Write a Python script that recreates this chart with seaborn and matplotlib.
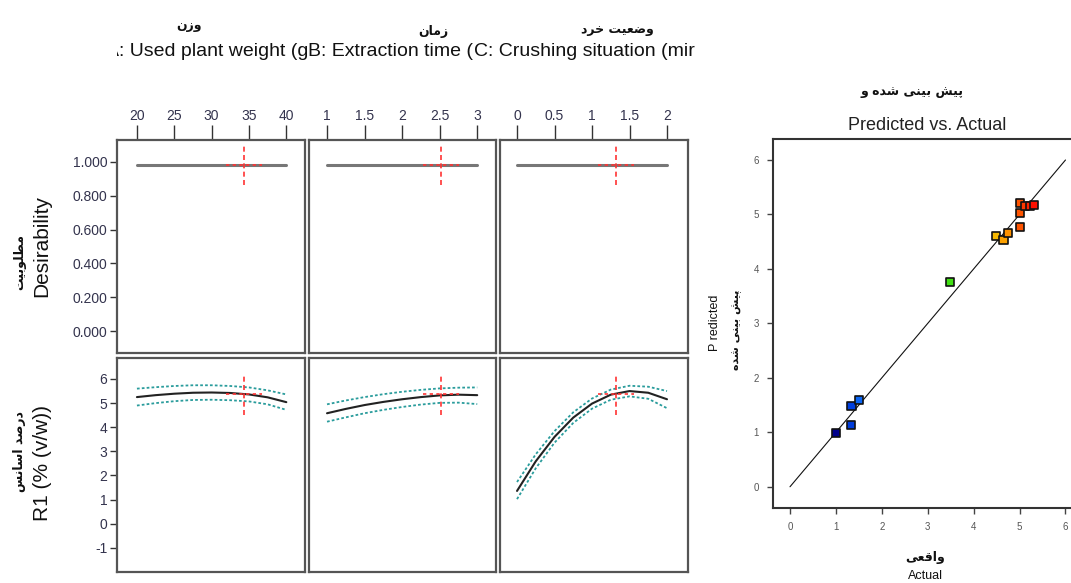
import numpy as np
import pandas as pd
import matplotlib
matplotlib.use("Agg")
import matplotlib.pyplot as plt
import seaborn as sns
from matplotlib.transforms import Bbox, TransformedBbox
from matplotlib.colors import LinearSegmentedColormap

# ---------------- data ----------------
# header texts as they appear (truncated) in the reference
factor_headers = ["A: Used plant weight (g", "B: Extraction time (", "C: Crushing situation (mir"]
factor_names_fa = ["وزن", "زمان", "وضعیت خرد"]
factor_ticks = [[20, 25, 30, 35, 40], [1, 1.5, 2, 2.5, 3], [0, 0.5, 1, 1.5, 2]]
factor_ticklabels = [["20", "25", "30", "35", "40"], ["1", "1.5", "2", "2.5", "3"], ["0", "0.5", "1", "1.5", "2"]]
factor_current = [34.3, 2.52, 1.32]

weight_x = [20, 22.5, 25, 27.5, 30, 32.5, 35, 37.5, 40]
weight_r1 = [5.25, 5.33, 5.39, 5.43, 5.44, 5.42, 5.36, 5.24, 5.04]
weight_hi = [5.60, 5.66, 5.71, 5.74, 5.74, 5.71, 5.65, 5.53, 5.36]
weight_lo = [4.90, 5.00, 5.08, 5.13, 5.14, 5.12, 5.07, 4.95, 4.72]

time_x = [1, 1.25, 1.5, 1.75, 2, 2.25, 2.5, 2.75, 3]
time_r1 = [4.58, 4.76, 4.92, 5.05, 5.16, 5.25, 5.32, 5.35, 5.33]
time_hi = [4.95, 5.11, 5.25, 5.37, 5.47, 5.55, 5.61, 5.64, 5.65]
time_lo = [4.23, 4.41, 4.58, 4.72, 4.84, 4.94, 5.01, 5.02, 4.96]

crush_x = [0, 0.25, 0.5, 0.75, 1, 1.25, 1.5, 1.75, 2]
crush_r1 = [1.36, 2.59, 3.60, 4.40, 4.98, 5.35, 5.50, 5.43, 5.16]
crush_hi = [1.73, 2.88, 3.84, 4.62, 5.19, 5.56, 5.72, 5.68, 5.50]
crush_lo = [1.02, 2.30, 3.36, 4.18, 4.77, 5.14, 5.28, 5.18, 4.79]

desirability_value = 0.985
r1_current = 5.37

desir_ticks = [0.0, 0.2, 0.4, 0.6, 0.8, 1.0]
desir_ticklabels = ["0.000", "0.200", "0.400", "0.600", "0.800", "1.000"]
r1_ticks = [-1, 0, 1, 2, 3, 4, 5, 6]

actual = [1.00, 1.33, 1.34, 1.50, 3.49, 4.49, 4.65, 4.75, 5.00, 5.00, 5.00, 5.12, 5.22, 5.32]
predicted = [0.98, 1.13, 1.48, 1.59, 3.76, 4.61, 4.53, 4.66, 4.77, 5.03, 5.21, 5.16, 5.16, 5.17]
diag_line = [0, 6]
pva_ticks = [0, 1, 2, 3, 4, 5, 6]

label_desir = "Desirability"
label_desir_fa = "مطلوبیت"
label_r1 = "R1 (% (v/w))"
label_r1_fa = "درصد اسانس"
title_pva = "Predicted vs. Actual"
title_pva_fa = "پیش بینی شده و"
label_pred = "P redicted"
label_pred_fa = "پیش بینی شده"
label_act = "Actual"
label_act_fa = "واقعی"

# ---------------- Arabic-script shaping (matplotlib has no shaper) ----------------
# (isolated, final, initial, medial); right-joining letters have only two forms
FORMS = {
    "ا": ("\uFE8D", "\uFE8E"), "د": ("\uFEA9", "\uFEAA"), "ر": ("\uFEAD", "\uFEAE"),
    "ز": ("\uFEAF", "\uFEB0"), "و": ("\uFEED", "\uFEEE"),
    "ب": ("\uFE8F", "\uFE90", "\uFE91", "\uFE92"), "پ": ("\uFB56", "\uFB57", "\uFB58", "\uFB59"),
    "ت": ("\uFE95", "\uFE96", "\uFE97", "\uFE98"), "خ": ("\uFEA5", "\uFEA6", "\uFEA7", "\uFEA8"),
    "س": ("\uFEB1", "\uFEB2", "\uFEB3", "\uFEB4"), "ش": ("\uFEB5", "\uFEB6", "\uFEB7", "\uFEB8"),
    "ص": ("\uFEB9", "\uFEBA", "\uFEBB", "\uFEBC"), "ض": ("\uFEBD", "\uFEBE", "\uFEBF", "\uFEC0"),
    "ط": ("\uFEC1", "\uFEC2", "\uFEC3", "\uFEC4"), "ع": ("\uFEC9", "\uFECA", "\uFECB", "\uFECC"),
    "ق": ("\uFED5", "\uFED6", "\uFED7", "\uFED8"), "ل": ("\uFEDD", "\uFEDE", "\uFEDF", "\uFEE0"),
    "م": ("\uFEE1", "\uFEE2", "\uFEE3", "\uFEE4"), "ن": ("\uFEE5", "\uFEE6", "\uFEE7", "\uFEE8"),
    "ه": ("\uFEE9", "\uFEEA", "\uFEEB", "\uFEEC"), "ی": ("\uFBFC", "\uFBFD", "\uFBFE", "\uFBFF"),
}


def shape_rtl(s):
    out = []
    for i, c in enumerate(s):
        if c not in FORMS:
            out.append(c)
            continue
        f = FORMS[c]
        prev_joins = i > 0 and s[i - 1] in FORMS and len(FORMS[s[i - 1]]) == 4
        next_joins = len(f) == 4 and i + 1 < len(s) and s[i + 1] in FORMS
        if prev_joins and next_joins:
            out.append(f[3])
        elif prev_joins:
            out.append(f[1])
        elif next_joins:
            out.append(f[2])
        else:
            out.append(f[0])
    return "".join(reversed(out))


# ---------------- style ----------------
sns.set_style("white")
plt.rcParams['font.family'] = ['Liberation Sans', 'DejaVu Sans']
FA = ["DejaVu Sans"]

W, H = 1071, 583
fig = plt.figure(figsize=(W / 100, H / 100), dpi=100)


def fx(px):
    return px / W


def fy(py):
    return 1 - py / H


col_left = [117, 309, 500]
col_w = [188, 187, 188]
top_row = (140, 353)
bot_row = (358, 572)
xlims = [(17.33, 42.5), (0.76, 3.25), (-0.227, 2.28)]

curves = [(weight_x, weight_r1, weight_hi, weight_lo),
          (time_x, time_r1, time_hi, time_lo),
          (crush_x, crush_r1, crush_hi, crush_lo)]

spine_col = "#555555"
tick_col = "#33334d"
red = "#ff3333"
teal = "#2a9c9c"

for i in range(3):
    # ---- desirability row
    axd = fig.add_axes([fx(col_left[i]), fy(top_row[1]), fx(col_w[i]), (top_row[1] - top_row[0]) / H])
    xs = [factor_ticks[i][0], factor_ticks[i][-1]]
    dfd = pd.DataFrame({"x": xs, "y": [desirability_value, desirability_value]})
    sns.lineplot(data=dfd, x="x", y="y", ax=axd, color="#777777", lw=2.2)
    axd.set_xlim(*xlims[i])
    axd.set_ylim(-0.13, 1.13)
    cur = factor_current[i]
    yfrac = (desirability_value + 0.13) / 1.26
    axd.axvline(cur, ymin=yfrac - 0.095, ymax=yfrac + 0.095, color=red, lw=1.2, ls=(0, (3, 2)), zorder=5)
    xfrac = (cur - xlims[i][0]) / (xlims[i][1] - xlims[i][0])
    axd.axhline(desirability_value, xmin=xfrac - 0.096, xmax=xfrac + 0.096, color=red, lw=1.2,
                ls=(0, (2, 2)), zorder=5)
    axd.xaxis.tick_top()
    axd.set_xticks(factor_ticks[i])
    axd.set_xticklabels(factor_ticklabels[i])
    axd.tick_params(axis="x", direction="out", length=11, width=1, color="#333333",
                    labelsize=10, labelcolor=tick_col, pad=1)
    axd.set_xlabel("")
    axd.set_ylabel("")
    if i == 0:
        axd.set_yticks(desir_ticks)
        axd.set_yticklabels(desir_ticklabels)
        axd.tick_params(axis="y", direction="out", length=5, width=1, color="#333333",
                        labelsize=10, labelcolor=tick_col, pad=2, left=True)
    else:
        axd.set_yticks([])
    for s in axd.spines.values():
        s.set_color(spine_col)
        s.set_linewidth(1.6)

    # ---- R1 row
    axr = fig.add_axes([fx(col_left[i]), fy(bot_row[1]), fx(col_w[i]), (bot_row[1] - bot_row[0]) / H])
    x, m, hi, lo = curves[i]
    dfr = pd.DataFrame({"x": x, "mean": m, "hi": hi, "lo": lo})
    sns.lineplot(data=dfr, x="x", y="hi", ax=axr, color=teal, lw=1.3, ls=(0, (1.5, 1.2)))
    sns.lineplot(data=dfr, x="x", y="lo", ax=axr, color=teal, lw=1.3, ls=(0, (1.5, 1.2)))
    sns.lineplot(data=dfr, x="x", y="mean", ax=axr, color="#222222", lw=1.5)
    axr.set_xlim(*xlims[i])
    axr.set_ylim(-2.0, 6.87)
    yfrac = (r1_current + 2.0) / 8.87
    axr.axvline(cur, ymin=yfrac - 0.095, ymax=yfrac + 0.095, color=red, lw=1.2, ls=(0, (3, 2)), zorder=5)
    axr.axhline(r1_current, xmin=xfrac - 0.096, xmax=xfrac + 0.096, color=red, lw=1.2,
                ls=(0, (2, 2)), zorder=5)
    axr.set_xticks([])
    axr.set_xlabel("")
    axr.set_ylabel("")
    if i == 0:
        axr.set_yticks(r1_ticks)
        axr.set_yticklabels([str(t) for t in r1_ticks])
        axr.tick_params(axis="y", direction="out", length=5, width=1, color="#333333",
                        labelsize=10, labelcolor=tick_col, pad=2, left=True)
    else:
        axr.set_yticks([])
    for s in axr.spines.values():
        s.set_color(spine_col)
        s.set_linewidth(1.6)

# header texts (first one is cut on its left by the plot margin, as in the reference)
text_left = [106, 307.5, 474]
for i in range(3):
    t = fig.text(fx(text_left[i]), fy(51), factor_headers[i], ha="left", va="center",
                 fontsize=14, color="#111111")
    if i == 0:
        bb = TransformedBbox(Bbox([[fx(117), 0], [fx(307), 1]]), fig.transFigure)
        t.set_clip_box(bb)
        t.set_clip_on(True)

fa_pos = [(189, 25), (433, 32), (617, 29)]
for i in range(3):
    fig.text(fx(fa_pos[i][0]), fy(fa_pos[i][1]), shape_rtl(factor_names_fa[i]), ha="center", va="center",
             fontsize=9, fontweight="bold", color="#111111", family=FA)

# left y labels
fig.text(fx(42), fy(246), label_desir, rotation=90, ha="center", va="center", fontsize=15, color="#111111")
fig.text(fx(20), fy(262), shape_rtl(label_desir_fa), rotation=90, ha="center", va="center", fontsize=9,
         fontweight="bold", color="#111111", family=FA)
fig.text(fx(42), fy(463), label_r1, rotation=90, ha="center", va="center", fontsize=15, color="#111111")
fig.text(fx(20), fy(452), shape_rtl(label_r1_fa), rotation=90, ha="center", va="center", fontsize=9,
         fontweight="bold", color="#111111", family=FA)

# ---------------- predicted vs actual ----------------
axp = fig.add_axes([fx(773), fy(508), 1 - fx(773), (508 - 139.3) / H])
cmap = LinearSegmentedColormap.from_list("de", [(0.0, "#00008b"), (0.08, "#0040e0"), (0.13, "#1078ff"),
                                                (0.58, "#40e010"), (0.81, "#f8b800"), (0.88, "#ff8c00"),
                                                (0.94, "#ff4800"), (1.0, "#ff1000")])
dfp = pd.DataFrame({"actual": actual, "predicted": predicted})
sns.lineplot(x=diag_line, y=diag_line, ax=axp, color="#111111", lw=0.8)
sns.scatterplot(data=dfp, x="actual", y="predicted", hue="actual", palette=cmap,
                hue_norm=(min(actual), max(actual)), marker="s", s=34, edgecolor="#111111",
                linewidth=1.2, legend=False, ax=axp, zorder=3)
axp.set_xlim(-0.37, 6.12)
axp.set_ylim(-0.39, 6.38)
axp.set_xticks(pva_ticks)
axp.set_yticks(pva_ticks)
axp.tick_params(direction="out", length=4, width=1, color="#444444", labelsize=7,
                labelcolor="#555555", bottom=True, left=True, pad=6)
axp.set_xlabel("")
axp.set_ylabel("")
axp.spines["right"].set_visible(False)
for s in ["left", "top", "bottom"]:
    axp.spines[s].set_color("#333333")
    axp.spines[s].set_linewidth(1.5)

fig.text(fx(927), fy(125), title_pva, ha="center", va="center", fontsize=13, color="#222222")
fig.text(fx(912), fy(92), shape_rtl(title_pva_fa), ha="center", va="center", fontsize=9, fontweight="bold",
         color="#111111", family=FA)
fig.text(fx(715), fy(323), label_pred, rotation=90, ha="center", va="center", fontsize=9, color="#111111")
fig.text(fx(737), fy(330), shape_rtl(label_pred_fa), rotation=90, ha="center", va="center", fontsize=8,
         fontweight="bold", color="#111111", family=FA)
fig.text(fx(925), fy(558), shape_rtl(label_act_fa), ha="center", va="center", fontsize=9, fontweight="bold",
         color="#111111", family=FA)
fig.text(fx(925), fy(576), label_act, ha="center", va="center", fontsize=9, color="#111111")

fig.savefig("out.png", dpi=100)
